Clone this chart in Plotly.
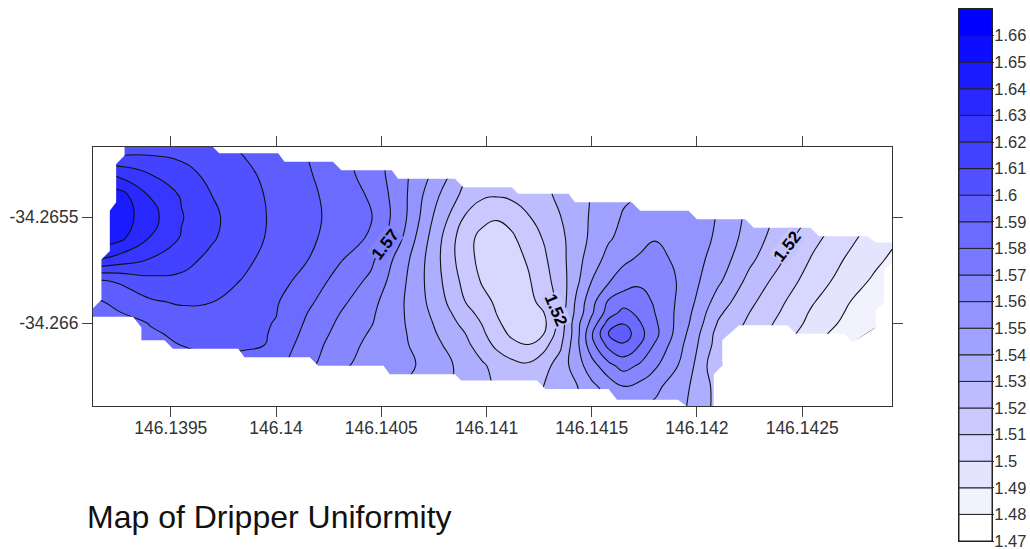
import plotly.graph_objects as go

lon_cols = [146.1391, 146.13925, 146.1394, 146.13955, 146.1397, 146.13985, 146.14, 146.14015, 146.1403,
            146.14045, 146.1406, 146.14075, 146.1409, 146.14098, 146.14105, 146.14112, 146.1412, 146.14127,
            146.14135, 146.14143, 146.1415, 146.14158, 146.14165, 146.14173,
            146.1418, 146.14195, 146.1421, 146.14225, 146.1424, 146.14255, 146.1427, 146.14285, 146.143]
lat_rows = [-34.2651, -34.2652, -34.2653, -34.2654, -34.2655, -34.2656, -34.2657,
            -34.2658, -34.2659, -34.26595, -34.266, -34.26605, -34.2661, -34.2662, -34.2663, -34.2664]

r01 = [1.600,1.603,1.604,1.603,1.600,1.595,1.590,1.587,1.580,1.570,1.560,1.550,1.540,1.537,1.535,1.535,1.535,1.535,1.535,1.537,1.540,1.541,1.543,1.545,1.547,1.550,1.550,1.545,1.537,1.530,1.523,1.513,1.503]
r02 = [1.605,1.608,1.609,1.608,1.604,1.5995,1.5945,1.5897,1.583,1.5745,1.563,1.552,1.538,1.535,1.533,1.532,1.532,1.533,1.536,1.538,1.540,1.542,1.545,1.547,1.549,1.551,1.550,1.542,1.535,1.527,1.520,1.510,1.500]
r03 = [1.632,1.628,1.6203,1.6132,1.6075,1.6021,1.5966,1.5911,1.5842,1.576,1.563,1.548,1.5317,1.529,1.527,1.5265,1.5285,1.5295,1.533,1.537,1.540,1.5435,1.5473,1.5495,1.551,1.552,1.550,1.540,1.532,1.524,1.515,1.506,1.498]
r04 = [1.645,1.645,1.6296,1.6192,1.6098,1.6037,1.5977,1.5923,1.586,1.5788,1.5633,1.5427,1.5265,1.5215,1.5205,1.522,1.5245,1.5275,1.532,1.536,1.5405,1.5445,1.5485,1.5505,1.552,1.5525,1.550,1.5385,1.5298,1.5217,1.5105,1.5023,1.495]
r05 = [1.652,1.646,1.634,1.6207,1.6117,1.6046,1.598,1.5927,1.5867,1.5808,1.5633,1.5393,1.519,1.5125,1.511,1.513,1.5194,1.5248,1.5297,1.5356,1.5413,1.5463,1.5509,1.5535,1.5555,1.5545,1.5496,1.5372,1.5274,1.5187,1.507,1.4987,1.491]
r06 = [1.648,1.643,1.6296,1.6192,1.6108,1.604,1.5976,1.592,1.5857,1.5786,1.560,1.5357,1.5131,1.5075,1.505,1.5085,1.5144,1.5205,1.5277,1.535,1.5422,1.549,1.5525,1.5565,1.5595,1.5565,1.5484,1.5354,1.5247,1.513,1.5033,1.4955,1.4882]
r07 = [1.632,1.626,1.6196,1.6132,1.6074,1.6019,1.596,1.5902,1.5811,1.5723,1.5546,1.5343,1.5133,1.5075,1.505,1.506,1.5112,1.518,1.5265,1.5363,1.5456,1.553,1.5582,1.5615,1.5632,1.5563,1.5457,1.5321,1.521,1.5088,1.4998,1.4921,1.4846]
r08 = [1.598,1.601,1.607,1.608,1.604,1.5993,1.5937,1.5864,1.5763,1.568,1.5522,1.5347,1.5165,1.509,1.5065,1.506,1.509,1.516,1.5247,1.538,1.550,1.559,1.5642,1.568,1.5685,1.5559,1.542,1.5271,1.5159,1.5052,1.4963,1.488,1.481]
r09 = [1.586,1.5932,1.5986,1.6012,1.600,1.5955,1.5909,1.582,1.5726,1.5631,1.5508,1.5365,1.520,1.513,1.5085,1.506,1.507,1.513,1.523,1.5425,1.5567,1.5715,1.576,1.5745,1.5688,1.555,1.5355,1.5223,1.5114,1.5007,1.4917,1.4825,1.476]
r10 = [1.581,1.5895,1.5945,1.5975,1.5975,1.594,1.5903,1.580,1.5703,1.5617,1.5508,1.538,1.5235,1.5165,1.5095,1.5065,1.5065,1.5095,1.5245,1.5435,1.5585,1.5745,1.583,1.5775,1.570,1.5535,1.532,1.520,1.5095,1.4985,1.490,1.4818,1.476]
r11 = [1.575,1.584,1.5905,1.5935,1.5945,1.5925,1.5896,1.5784,1.5685,1.5607,1.551,1.5396,1.5268,1.5195,1.5115,1.506,1.505,1.507,1.524,1.5467,1.5633,1.584,1.5895,1.5805,1.5717,1.5521,1.5293,1.518,1.5073,1.4969,1.4882,1.4818,1.475]
r12 = [1.570,1.580,1.5885,1.592,1.593,1.592,1.5893,1.5765,1.567,1.559,1.5515,1.541,1.530,1.522,1.5135,1.5085,1.5065,1.5095,1.5255,1.5465,1.569,1.591,1.5965,1.583,1.573,1.550,1.5265,1.516,1.505,1.4945,1.485,1.478,1.472]
r13 = [1.565,1.575,1.584,1.5905,1.5915,1.5915,1.5892,1.5734,1.5668,1.5568,1.5518,1.5428,1.5324,1.5245,1.5175,1.512,1.510,1.516,1.528,1.5475,1.5667,1.5835,1.589,1.580,1.5693,1.5481,1.5257,1.5136,1.503,1.4923,1.482,1.475,1.470]
r14 = [1.555,1.563,1.572,1.581,1.5875,1.586,1.5825,1.5727,1.5617,1.5567,1.5527,1.5463,1.536,1.5315,1.5265,1.5235,1.5217,1.5265,1.5342,1.5455,1.5557,1.567,1.5737,1.5685,1.5618,1.5456,1.5217,1.510,1.500,1.490,1.480,1.470,1.470]
r15 = [1.545,1.552,1.560,1.570,1.578,1.578,1.575,1.566,1.556,1.552,1.549,1.544,1.536,1.5325,1.529,1.5265,1.526,1.530,1.534,1.5395,1.5475,1.554,1.5595,1.557,1.5525,1.5415,1.5265,1.510,1.500,1.490,1.480,1.470,1.470]
r16 = [1.535,1.542,1.550,1.560,1.568,1.568,1.565,1.558,1.550,1.547,1.545,1.540,1.535,1.533,1.531,1.530,1.529,1.531,1.533,1.538,1.543,1.548,1.551,1.550,1.548,1.540,1.527,1.510,1.500,1.490,1.480,1.470,1.470]
uniformity = [r01, r02, r03, r04, r05, r06, r07, r08, r09, r10, r11, r12, r13, r14, r15, r16]

field_lon = [146.13928,146.13970,146.13973,146.14001,146.14004,146.14027,146.14031,146.14055,146.14058,146.14085,146.14089,
             146.14112,146.14115,146.14139,146.14142,146.14169,146.14173,146.14196,146.14200,146.14223,146.14227,146.14254,
             146.14258,146.14281,146.14285,146.14293,146.14293,146.14289,146.14289,146.14285,146.14285,146.14274,146.14270,
             146.14247,146.14243,146.14220,146.14212,146.14212,146.14208,146.14208,146.14195,146.14191,146.14162,146.14158,
             146.14128,146.14124,146.14088,146.14085,146.14054,146.14051,146.14020,146.14016,146.13985,146.13982,146.13951,
             146.13947,146.13936,146.13936,146.13932,146.13913,146.13913,146.13917,146.13917,146.13921,146.13921,146.13924,
             146.13924,146.13928]
field_lat = [-34.26517,-34.26517,-34.26520,-34.26520,-34.26524,-34.26524,-34.26528,-34.26528,-34.26532,-34.26532,-34.26536,
             -34.26536,-34.26539,-34.26539,-34.26543,-34.26543,-34.26547,-34.26547,-34.26551,-34.26551,-34.26555,-34.26555,
             -34.26559,-34.26559,-34.26562,-34.26562,-34.26571,-34.26575,-34.26590,-34.26594,-34.26602,-34.26609,-34.26605,
             -34.26605,-34.26601,-34.26601,-34.26608,-34.26620,-34.26624,-34.26640,-34.26639,-34.26636,-34.26636,-34.26631,
             -34.26631,-34.26627,-34.26627,-34.26624,-34.26624,-34.26620,-34.26620,-34.26616,-34.26616,-34.26612,-34.26612,
             -34.26608,-34.26608,-34.26602,-34.26597,-34.26597,-34.26593,-34.26589,-34.26570,-34.26566,-34.26547,-34.26543,
             -34.26525,-34.26521]

outer_lon = [146.1388, 146.1388, 146.1431, 146.1431, 146.1388]
outer_lat = [-34.2650, -34.2666, -34.2666, -34.2650, -34.2650]

x_ticks = [146.1395, 146.14, 146.1405, 146.141, 146.1415, 146.142, 146.1425]
x_labels = ["146.1395", "146.14", "146.1405", "146.141", "146.1415", "146.142", "146.1425"]
y_ticks = [-34.2655, -34.266]
y_labels = ["-34.2655", "-34.266"]
bar_ticks = [1.47,1.48,1.49,1.50,1.51,1.52,1.53,1.54,1.55,1.56,1.57,1.58,1.59,1.60,1.61,1.62,1.63,1.64,1.65,1.66]
bar_labels = ["1.47","1.48","1.49","1.5","1.51","1.52","1.53","1.54","1.55","1.56","1.57","1.58","1.59","1.6","1.61","1.62","1.63","1.64","1.65","1.66"]
band_size = [0.01] * 20
band_colors = ["rgb(%d,%d,255)" % (round(255 * (19 - i) / 19), round(255 * (19 - i) / 19)) for i in range(20)]

FONT = "Liberation Sans"
W, H = 1030, 549

fig = go.Figure()
fig.add_trace(go.Contour(
    x=lon_cols, y=lat_rows, z=uniformity,
    colorscale=[[0, "#ffffff"], [0.0476, "#ffffff"], [0.9524, "#0000ff"], [1, "#0000ff"]],
    autocontour=False, showscale=False,
    contours=dict(start=1.47, end=1.67, size=0.01, coloring="fill", showlabels=False),
    line=dict(color="#111111", width=1.1, smoothing=1.3),
    hoverinfo="skip",
))
fig.add_trace(go.Scatter(
    x=outer_lon + field_lon + field_lon[:1] + outer_lon[:1],
    y=outer_lat + field_lat + field_lat[:1] + outer_lat[:1],
    mode="none", fill="toself", fillcolor="#ffffff", hoverinfo="skip", showlegend=False,
))
fig.add_trace(go.Bar(
    x=["scale"] * 20, y=band_size, base=bar_ticks, width=1,
    marker=dict(color=band_colors, line=dict(color="#222222", width=1)),
    xaxis="x2", yaxis="y2", hoverinfo="skip", showlegend=False,
))

axis_common = dict(showgrid=False, zeroline=False, showline=True, linecolor="#333333", linewidth=1,
                   mirror="ticks", ticks="outside", ticklen=10, tickcolor="#444444", tickwidth=1,
                   tickfont=dict(family=FONT, size=17.5, color="#333333"), tickmode="array")
fig.update_layout(
    width=W, height=H, margin=dict(l=0, r=0, t=0, b=0, autoexpand=False),
    paper_bgcolor="white", plot_bgcolor="white", showlegend=False, barmode="overlay",
    xaxis=dict(domain=[93 / W, 892 / W], range=[146.13913, 146.142927], ticklabelstandoff=-4,
               tickvals=x_ticks, ticktext=x_labels, **axis_common),
    yaxis=dict(domain=[1 - 406 / H, 1 - 147 / H], range=[-34.26639, -34.26517],
               tickvals=y_ticks, ticktext=y_labels, **axis_common),
    xaxis2=dict(domain=[959 / W, 992 / W], anchor="y2", showticklabels=False, ticks="",
                showgrid=False, zeroline=False, fixedrange=True, showline=True,
                linecolor="#222222", mirror=True),
    yaxis2=dict(domain=[1 - 541 / H, 1 - 9 / H], anchor="x2", side="right", range=[1.47, 1.67],
                tickmode="array", tickvals=bar_ticks, ticktext=bar_labels,
                ticks="outside", ticklen=1, tickcolor="#333333", tickwidth=1,
                ticklabelstandoff=-3,
                showgrid=False, zeroline=False, fixedrange=True, showline=True,
                linecolor="#222222", mirror=True, ticklabeloverflow="allow",
                tickfont=dict(family=FONT, size=16.5, color="#333333")),
    annotations=[
        dict(x=146.14052, y=-34.26563, text="<b>1.57</b>", textangle=-52, showarrow=False,
             font=dict(family=FONT, size=17, color="black"), bgcolor="#8282ff", borderpad=0),
        dict(x=146.14133, y=-34.26594, text="<b>1.52</b>", textangle=67, showarrow=False,
             font=dict(family=FONT, size=17, color="black"), bgcolor="#c4c4ff", borderpad=0),
        dict(x=146.14243, y=-34.26564, text="<b>1.52</b>", textangle=-52, showarrow=False,
             font=dict(family=FONT, size=17, color="black"), bgcolor="#c4c4ff", borderpad=0),
        dict(xref="paper", yref="paper", x=85 / W, y=1 - 517 / H, xanchor="left", yanchor="middle",
             text="Map of Dripper Uniformity", showarrow=False,
             font=dict(family=FONT, size=32, color="#111111")),
    ],
)
fig.write_html("out.html", config=dict(displayModeBar=False),
               post_script="document.body.style.margin='0';document.documentElement.style.overflow='hidden';")
